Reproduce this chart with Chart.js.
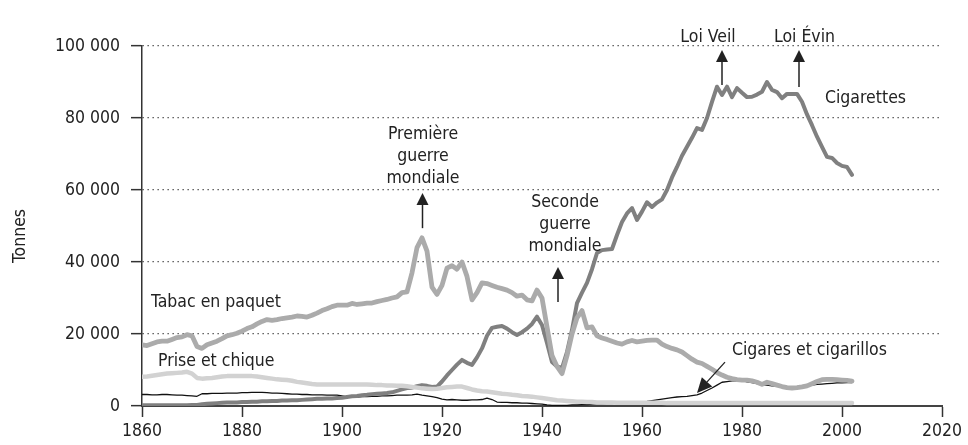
<!DOCTYPE html>
<html>
<head>
<meta charset="utf-8">
<script src="https://cdn.jsdelivr.net/npm/chart.js@4.4.1/dist/chart.umd.min.js"></script>
<style>
  html, body { margin: 0; padding: 0; background: #fff; }
  #wrap { width: 968px; height: 445px; position: relative; }
</style>
</head>
<body>
<div id="wrap"><canvas id="chart"></canvas></div>
<script>
// values in thousands of tonnes, one per year from 1860 to 2002
const firstYear = 1860;

const cigarettes = [
  0.2, 0.2, 0.2, 0.2, 0.2, 0.2, 0.2, 0.2, 0.2, 0.2,
  0.3, 0.3, 0.5, 0.6, 0.7, 0.8, 0.9, 1.0, 1.0, 1.0,
  1.1, 1.1, 1.2, 1.2, 1.3, 1.3, 1.4, 1.4, 1.5, 1.5,
  1.6, 1.6, 1.7, 1.8, 1.9, 2.0, 2.0, 2.1, 2.1, 2.2,
  2.3, 2.5, 2.7, 2.8, 3.0, 3.1, 3.3, 3.4, 3.5, 3.6,
  3.8, 4.2, 4.6, 5.0, 5.1, 5.5, 5.8, 5.6, 5.3, 5.4,
  6.8, 8.5, 10.0, 11.5, 12.8, 12.0, 11.4, 13.5, 16.0, 19.5,
  21.7, 22.0, 22.2, 21.5, 20.5, 19.7, 20.5, 21.5, 22.8, 24.8,
  22.5, 17.5, 12.2, 11.0, 10.5, 15.0, 21.1, 28.6, 31.5, 34.2,
  38.0, 42.5, 43.3, 43.5, 43.6, 47.5, 51.1, 53.5, 55.0, 51.7,
  54.0, 56.6, 55.3, 56.5, 57.4, 60.0, 63.5, 66.4, 69.5, 72.0,
  74.5, 77.2, 76.7, 80.0, 84.5, 88.7, 86.4, 88.7, 85.8, 88.3,
  87.0, 85.8, 85.9, 86.5, 87.3, 90.0, 87.8, 87.2, 85.5, 86.7,
  86.7, 86.7, 84.5, 81.0, 78.0, 74.8, 72.0, 69.2, 68.9, 67.5,
  66.7, 66.4, 64.2
];

const tabacPaquet = [
  17.0, 16.8, 17.3, 17.8, 18.0, 18.0, 18.5, 19.0, 19.2, 19.8,
  19.5, 16.5, 16.0, 17.0, 17.5, 18.0, 18.7, 19.5, 19.8, 20.2,
  20.8, 21.5, 22.0, 22.8, 23.5, 24.0, 23.8, 24.0, 24.3, 24.5,
  24.7, 25.0, 24.9, 24.7, 25.2, 25.8, 26.5, 27.0, 27.6, 28.0,
  28.0, 28.0, 28.5, 28.2, 28.4, 28.6, 28.6, 29.0, 29.3, 29.6,
  30.0, 30.3, 31.5, 31.7, 37.0, 44.0, 46.7, 43.0, 33.0, 31.0,
  33.5, 38.3, 39.0, 38.0, 40.0, 36.0, 29.5, 31.5, 34.2, 34.0,
  33.5, 33.0, 32.6, 32.2, 31.5, 30.5, 30.8, 29.5, 29.2, 32.2,
  30.0, 22.0, 14.0, 11.0, 9.0, 14.0, 20.0, 24.5, 26.5, 21.7,
  22.0, 19.5, 18.9, 18.5, 18.0, 17.5, 17.2, 17.8, 18.2, 17.8,
  18.0, 18.2, 18.3, 18.3, 17.2, 16.5, 16.0, 15.6, 15.0, 14.0,
  13.0, 12.2, 11.8, 11.0, 10.2, 9.3, 8.6, 8.0, 7.6, 7.3,
  7.2, 7.2, 7.0, 6.6, 6.0, 6.6, 6.2, 5.8, 5.4, 5.1,
  5.0, 5.1, 5.3, 5.6, 6.2, 6.8, 7.3, 7.4, 7.4, 7.3,
  7.2, 7.1, 6.9
];

const priseChique = [
  8.1, 8.2, 8.4, 8.6, 8.8, 9.0, 9.1, 9.2, 9.3, 9.5,
  9.0, 7.8, 7.6, 7.7, 7.8, 8.0, 8.2, 8.3, 8.3, 8.3,
  8.3, 8.3, 8.3, 8.2, 8.0, 7.8, 7.6, 7.4, 7.3, 7.2,
  7.0, 6.7, 6.5, 6.3, 6.1, 6.0, 6.0, 6.0, 6.0, 6.0,
  6.0, 6.0, 6.0, 6.0, 6.0, 6.0, 5.9, 5.8, 5.8, 5.7,
  5.7, 5.6, 5.6, 5.5, 5.3, 5.1, 4.9, 4.8, 4.7, 4.8,
  5.0, 5.2, 5.3, 5.4, 5.4, 5.0, 4.6, 4.3, 4.1, 4.0,
  3.8, 3.6, 3.4, 3.3, 3.1, 3.0, 2.8, 2.7, 2.6, 2.4,
  2.2, 2.0, 1.8, 1.6, 1.5, 1.4, 1.3, 1.2, 1.2, 1.1,
  1.1, 1.0, 1.0, 1.0, 1.0, 0.9, 0.9, 0.9, 0.9, 0.9,
  0.9, 0.9, 0.9, 0.9, 0.9, 0.8, 0.8, 0.8, 0.8, 0.8,
  0.8, 0.8, 0.8, 0.8, 0.8, 0.8, 0.8, 0.8, 0.8, 0.8,
  0.8, 0.8, 0.8, 0.8, 0.8, 0.8, 0.8, 0.8, 0.8, 0.8,
  0.8, 0.8, 0.8, 0.8, 0.8, 0.8, 0.8, 0.8, 0.8, 0.8,
  0.8, 0.8, 0.8
];

const cigares = [
  3.2, 3.2, 3.1, 3.1, 3.2, 3.2, 3.1, 3.0, 3.0, 2.9,
  2.8, 2.7, 3.4, 3.4, 3.5, 3.5, 3.5, 3.6, 3.6, 3.6,
  3.7, 3.7, 3.8, 3.8, 3.8, 3.7, 3.6, 3.6, 3.5, 3.4,
  3.3, 3.3, 3.2, 3.2, 3.1, 3.1, 3.1, 3.0, 3.0, 3.0,
  2.8, 2.5, 2.5, 2.5, 2.6, 2.6, 2.7, 2.7, 2.8, 2.8,
  2.9, 3.0, 3.0, 3.0, 3.1, 3.3, 3.0, 2.8, 2.6, 2.3,
  1.9, 1.7, 1.8, 1.7, 1.6, 1.6, 1.7, 1.7, 1.8, 2.2,
  1.8, 1.1, 1.0, 1.0, 0.9, 0.9, 0.8, 0.8, 0.7, 0.6,
  0.5, 0.3, 0.2, 0.2, 0.2, 0.2, 0.3, 0.3, 0.4, 0.4,
  0.5, 0.6, 0.6, 0.7, 0.7, 0.8, 0.9, 0.9, 1.0, 1.1,
  1.2, 1.3, 1.5, 1.7, 1.9, 2.1, 2.3, 2.5, 2.6, 2.7,
  2.9, 3.1, 3.6, 4.3, 5.0, 5.8, 6.6, 6.8, 7.0, 7.0,
  7.1, 6.7, 6.5, 6.2, 5.9, 5.8, 5.6, 5.5, 5.4, 5.4,
  5.4, 5.4, 5.5, 5.6, 5.8, 6.0, 6.1, 6.2, 6.3, 6.4,
  6.4, 6.5, 6.5
];

const years = cigarettes.map((v, i) => firstYear + i);

// historical events: arrow x (year), arrow tip / tail (thousand t), text position
const events = [
  { lines: ['Première', 'guerre', 'mondiale'], year: 1916.1, tip: 59.2, tail: 49.4, textYear: 1916.2, textY: 74.2 },
  { lines: ['Seconde', 'guerre', 'mondiale'], year: 1943.2, tip: 38.6, tail: 28.9, textYear: 1944.6, textY: 55.3 },
  { lines: ['Loi Veil'], year: 1976.0, tip: 98.9, tail: 89.2, textYear: 1973.2, textY: 101.1 },
  { lines: ['Loi Évin'], year: 1991.4, tip: 98.9, tail: 88.6, textYear: 1992.5, textY: 101.1 }
];

// series names written next to the curves (left edge year, baseline value)
const seriesLabels = [
  { text: 'Cigarettes', year: 1996.6, y: 84.2 },
  { text: 'Tabac en paquet', year: 1861.8, y: 27.5 },
  { text: 'Prise et chique', year: 1863.2, y: 11.1 },
  { text: 'Cigares et cigarillos', year: 1978.0, y: 14.2 }
];
const cigaresArrow = { fromYear: 1976.6, fromY: 12.2, toYear: 1971.0, toY: 3.6 };

const FAMILY = '"Liberation Sans Narrow", "DejaVu Sans Condensed", "Arial Narrow", sans-serif';
const FONT = '17.5px ' + FAMILY;
const INK = '#222';

function pts(values) {
  return values.map((v, i) => ({ x: years[i], y: v }));
}

function spaced(n) {
  return String(n).replace(/\B(?=(\d{3})+(?!\d))/g, ' ');
}

const annotations = {
  id: 'annotations',
  afterDraw(chart) {
    const { ctx, scales: { x, y }, chartArea } = chart;
    ctx.save();
    ctx.font = FONT;
    ctx.fillStyle = INK;
    ctx.strokeStyle = INK;

    events.forEach(ev => {
      const px = x.getPixelForValue(ev.year);
      const tip = y.getPixelForValue(ev.tip);
      const tail = y.getPixelForValue(ev.tail);
      ctx.lineWidth = 1.5;
      ctx.beginPath();
      ctx.moveTo(px, tail);
      ctx.lineTo(px, tip + 10);
      ctx.stroke();
      ctx.beginPath();
      ctx.moveTo(px, tip);
      ctx.lineTo(px - 6, tip + 12);
      ctx.lineTo(px + 6, tip + 12);
      ctx.closePath();
      ctx.fill();

      ctx.textAlign = 'center';
      ctx.textBaseline = 'alphabetic';
      const tx = x.getPixelForValue(ev.textYear);
      const ty = y.getPixelForValue(ev.textY);
      ev.lines.forEach((s, i) => ctx.fillText(s, tx, ty + i * 22));
    });

    ctx.textAlign = 'left';
    seriesLabels.forEach(l => {
      ctx.fillText(l.text, x.getPixelForValue(l.year), y.getPixelForValue(l.y));
    });

    // arrow pointing at the cigares line
    const ax = x.getPixelForValue(cigaresArrow.fromYear), ay = y.getPixelForValue(cigaresArrow.fromY);
    const bx = x.getPixelForValue(cigaresArrow.toYear), by = y.getPixelForValue(cigaresArrow.toY);
    const ang = Math.atan2(by - ay, bx - ax);
    const hl = 15, hw = 7;
    ctx.lineWidth = 1.3;
    ctx.beginPath();
    ctx.moveTo(ax, ay);
    ctx.lineTo(bx - Math.cos(ang) * hl, by - Math.sin(ang) * hl);
    ctx.stroke();
    ctx.beginPath();
    ctx.moveTo(bx, by);
    ctx.lineTo(bx - Math.cos(ang) * hl - Math.sin(ang) * hw, by - Math.sin(ang) * hl + Math.cos(ang) * hw);
    ctx.lineTo(bx - Math.cos(ang) * hl + Math.sin(ang) * hw, by - Math.sin(ang) * hl - Math.cos(ang) * hw);
    ctx.closePath();
    ctx.fill();

    // y axis title
    ctx.save();
    ctx.translate(20, (chartArea.top + chartArea.bottom) / 2 + 10);
    ctx.rotate(-Math.PI / 2);
    ctx.textAlign = 'center';
    ctx.textBaseline = 'middle';
    ctx.fillText('Tonnes', 0, 0);
    ctx.restore();

    ctx.restore();
  }
};

const line = (label, values, color, width) => ({
  label: label,
  data: pts(values),
  borderColor: color,
  borderWidth: width,
  pointRadius: 0,
  tension: 0,
  borderJoinStyle: 'round',
  borderCapStyle: 'round',
  fill: false
});

new Chart(document.getElementById('chart'), {
  type: 'line',
  data: {
    datasets: [
      line('Prise et chique', priseChique, '#d2d2d2', 4.5),
      line('Tabac en paquet', tabacPaquet, '#ababab', 4.8),
      line('Cigarettes', cigarettes, '#808080', 4),
      line('Cigares et cigarillos', cigares, '#111111', 1.3)
    ]
  },
  options: {
    responsive: true,
    maintainAspectRatio: false,
    animation: false,
    layout: { padding: { top: 46, right: 26, left: 0, bottom: 0 } },
    plugins: { legend: { display: false }, tooltip: { enabled: false } },
    scales: {
      x: {
        type: 'linear',
        min: 1860,
        max: 2020,
        afterFit: s => { s.height = 39; },
        ticks: {
          stepSize: 20,
          padding: 4,
          color: INK,
          font: { family: FAMILY, size: 17.5 },
          maxRotation: 0,
          callback: v => String(v)
        },
        grid: { drawOnChartArea: false, tickLength: 11, tickColor: '#333', tickWidth: 1.5 },
        border: { color: '#444', width: 2 }
      },
      y: {
        min: 0,
        max: 100,
        afterFit: s => { s.width = 142; },
        ticks: {
          stepSize: 20,
          padding: 11,
          color: INK,
          font: { family: FAMILY, size: 17.5 },
          callback: v => spaced(v * 1000)
        },
        grid: { color: '#444', lineWidth: 1.3, tickLength: 11, tickColor: '#333', tickWidth: 1.5 },
        border: { color: '#333', width: 1.5, dash: [1.3, 3.7] }
      }
    }
  },
  plugins: [annotations]
});
</script>
</body>
</html>
